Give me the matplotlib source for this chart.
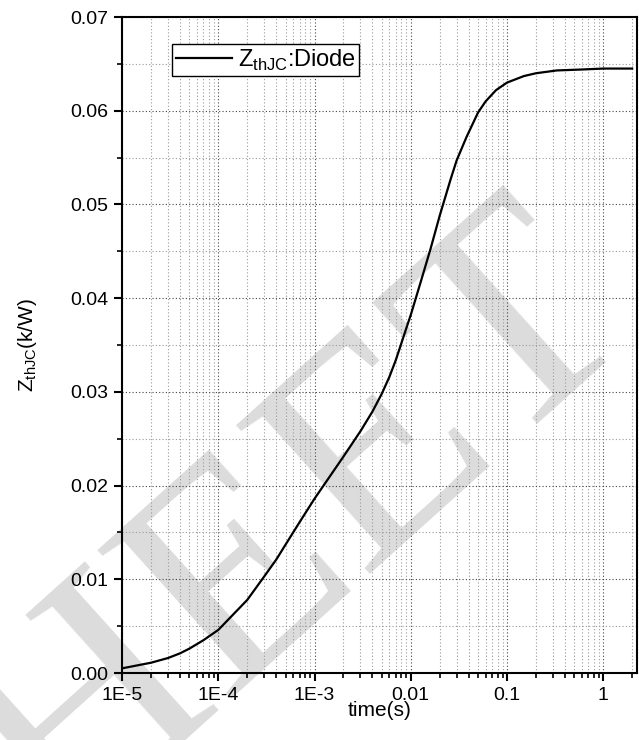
import numpy as np
import matplotlib
matplotlib.use("Agg")
import matplotlib.pyplot as plt
from matplotlib.ticker import LogLocator, FixedLocator, FixedFormatter, MultipleLocator, FormatStrFormatter, NullFormatter

plt.rcParams['font.family'] = ['Liberation Sans', 'DejaVu Sans']
plt.rcParams['mathtext.fontset'] = 'custom'
plt.rcParams['mathtext.rm'] = 'Liberation Sans'

# transient thermal impedance, junction to case (diode)
t_s = [1e-5, 2e-5, 3e-5, 4e-5, 5e-5, 7e-5, 1e-4, 2e-4, 3e-4, 4e-4, 5e-4, 7e-4,
       1e-3, 2e-3, 3e-3, 4e-3, 5e-3, 6e-3, 7e-3, 8e-3, 9e-3, 0.01, 0.0125, 0.016,
       0.02, 0.026, 0.03, 0.038, 0.05, 0.06, 0.077, 0.1, 0.15, 0.2, 0.33, 0.6, 1.0, 2.0]
zth = [0.0005, 0.0011, 0.0016, 0.0021, 0.0026, 0.0035, 0.0046, 0.0078, 0.0103, 0.0121, 0.0137, 0.0161,
       0.0186, 0.0231, 0.0258, 0.0279, 0.0298, 0.0316, 0.0334, 0.0352, 0.0368, 0.0382, 0.0415, 0.0452,
       0.0488, 0.0527, 0.0547, 0.0572, 0.0598, 0.0610, 0.0622, 0.0630, 0.0637, 0.0640, 0.0643, 0.0644, 0.0645, 0.0645]

xticks = [1e-5, 1e-4, 1e-3, 1e-2, 1e-1, 1]
xtick_labels = ["1E-5", "1E-4", "1E-3", "0.01", "0.1", "1"]

fig = plt.figure(figsize=(6.39, 7.4), dpi=100)
ax = fig.add_axes([0.191, 0.0905, 0.806, 0.8865])

ax.plot(t_s, zth, color='black', lw=1.6, zorder=3, label=r'Z$_\mathregular{thJC}$:Diode')

ax.set_xscale('log')
ax.set_xlim(1e-5, 2.25)
ax.set_ylim(0, 0.07)

ax.xaxis.set_major_locator(FixedLocator(xticks))
ax.xaxis.set_major_formatter(FixedFormatter(xtick_labels))
ax.xaxis.set_minor_locator(LogLocator(base=10, subs=np.arange(2, 10), numticks=20))
ax.xaxis.set_minor_formatter(NullFormatter())
ax.yaxis.set_major_locator(MultipleLocator(0.01))
ax.yaxis.set_minor_locator(MultipleLocator(0.005))
ax.yaxis.set_major_formatter(FormatStrFormatter('%.2f'))

ax.tick_params(which='major', direction='out', length=6, width=1.5, labelsize=14, pad=4)
ax.tick_params(which='minor', direction='out', length=3.5, width=1.2)
for sp in ax.spines.values():
    sp.set_linewidth(1.5)

ax.set_axisbelow(True)
ax.grid(which='major', linestyle=(0, (1, 2)), color='#444444', lw=0.8)
ax.grid(which='minor', linestyle=(0, (1, 2)), color='#9a9a9a', lw=0.8)

ax.set_xlabel('time(s)', fontsize=15, labelpad=-2)
ax.set_ylabel(r'Z$_\mathregular{thJC}$(k/W)', fontsize=15, labelpad=22)

leg = ax.legend(loc='upper left', bbox_to_anchor=(0.097, 0.959), borderaxespad=0,
                fontsize=17, fancybox=False, framealpha=1, edgecolor='black',
                handlelength=2.4, handletextpad=0.25, borderpad=0.15)
leg.get_frame().set_linewidth(1.0)

# light watermark behind the grid
ax.text(0.469, 0.284, 'HEET', transform=fig.transFigure, rotation=42,
        rotation_mode='anchor', ha='center', va='center', fontsize=220,
        family=['Liberation Serif', 'DejaVu Serif'], color='#dcdcdc',
        clip_on=False, zorder=0.2)

fig.savefig('out.png', dpi=100)
